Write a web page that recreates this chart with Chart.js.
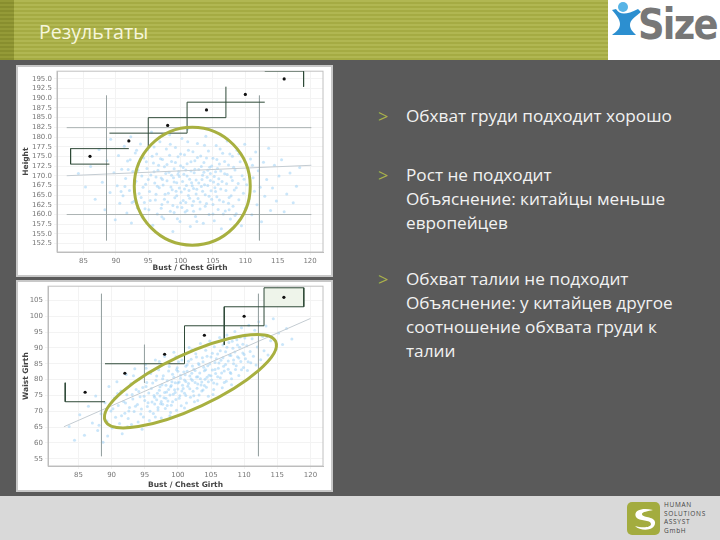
<!DOCTYPE html>
<html lang="ru">
<head>
<meta charset="utf-8">
<title>Результаты</title>
<script src="https://cdn.jsdelivr.net/npm/chart.js@4"></script>
<style>
  html, body { margin: 0; padding: 0; }
  body { width: 720px; height: 540px; position: relative; overflow: hidden; background: #5a5a5a; font-family: "Open Sans", sans-serif; }
  #header { position: absolute; left: 0; top: 0; width: 608px; height: 60px; background: repeating-linear-gradient(180deg, #b1b752 0 2px, #a5ab43 2px 4px); }
  #header i { position: absolute; left: 0; top: 0; width: 14px; height: 60px; background: repeating-linear-gradient(180deg, #949a37 0 2px, #888e2e 2px 4px); }
  #title { position: absolute; left: 39px; top: 19px; font-size: 19.6px; line-height: 26px; color: #f6f6dc; }
  #logo { position: absolute; left: 608px; top: 0; width: 112px; height: 60px; background: #fff; }
  #logo span { position: absolute; left: 30px; top: 0; font: bold 42px/50px "DejaVu Sans", sans-serif; letter-spacing: -2px; color: #777; transform: scaleX(.88); transform-origin: left; }
  #logo svg { position: absolute; left: 3px; top: 0; }
  #footer { position: absolute; left: 0; top: 496px; width: 720px; height: 44px; background: #d9d9d9; }
  #footer svg { position: absolute; left: 627px; top: 6px; }
  #footer p { position: absolute; left: 664px; top: 5px; margin: 0; font: 6.5px/8.6px "Open Sans", sans-serif; letter-spacing: .7px; color: #444; }
  .panel { position: absolute; left: 16px; width: 313px; height: 208px; background: #fff; border: 2px solid #c8c8c8; }
  #panel1 { top: 65px; }
  #panel2 { top: 280px; }
  canvas { position: absolute; left: -2px; top: -2px; filter: blur(.35px); }
  .note { position: absolute; left: 406px; margin: 0; font-size: 17.2px; line-height: 24px; color: #f2f2f2; width: 300px; }
  .note::before { content: ">"; position: absolute; left: -28px; color: #aab24a; font-size: 18px; }
</style>
</head>
<body>
<div id="header"><i></i></div>
<div id="title">Результаты</div>
<div id="logo">
  <svg width="30" height="44" viewBox="0 0 30 44"><circle cx="12" cy="7" r="5" fill="#57b4e6"/><path d="M1 10 L5 9 C9 15 15 15 27 9 L30 12 C24 17 19 20 19 25 C19 29 22 32 25 35 L1 35 C5 32 9 29 9 24 C9 19 5 15 1 10 Z" fill="#2c8fd0"/></svg>
  <span>Size</span>
</div>
<div id="footer">
  <svg width="33" height="33" viewBox="0 0 33 33"><rect width="33" height="33" rx="5" fill="#a3ac3f"/><path d="M26 8 C14 5 6 9 9 15 C12 20 24 17 24 22 C24 26 14 26 8 24 C14 30 29 29 28 20 C27 14 15 16 15 12 C15 10 21 9 26 8 Z" fill="#fff"/></svg>
  <p>HUMAN<br>SOLUTIONS<br>ASSYST<br>GmbH</p>
</div>

<div class="panel" id="panel1"><canvas id="heightChart" width="317" height="212"></canvas></div>
<div class="panel" id="panel2"><canvas id="waistChart" width="317" height="212"></canvas></div>

<p class="note" style="top:104px">Обхват груди подходит хорошо</p>
<p class="note" style="top:163px">Рост не подходит<br>Объяснение: китайцы меньше<br>европейцев</p>
<p class="note" style="top:267px">Обхват талии не подходит<br>Объяснение: у китайцев другое<br>соотношение обхвата груди к<br>талии</p>

<script>
/* global Chart */
const bustTicks = [85, 90, 95, 100, 105, 110, 115, 120];
const heightTicks = [195, 192.5, 190, 187.5, 185, 182.5, 180, 177.5, 175, 172.5, 170, 167.5, 165, 162.5, 160, 157.5, 155, 152.5];
const waistTicks = [105, 100, 95, 90, 85, 80, 75, 70, 65, 60, 55];

// the six size-table marks
const sizeBust = [86, 92, 98, 104, 110, 116];
const sizeHeight = [175, 179, 183, 187, 191, 195];
const sizeWaist = [76, 82, 88, 94, 100, 106];

// size-step outlines, [bust, value]
const heightSteps = [
  [[92, 177], [83, 177], [83, 173], [89, 173]],
  [[89, 181], [101, 181], [101, 189], [113, 189]],
  [[95, 177], [95, 185], [107, 185], [107, 193]],
  [[113, 197], [119, 197], [119, 193]],
];
const waistSteps = [
  [[83, 79], [83, 73], [89, 73]],
  [[89, 85], [101, 85], [101, 97], [113, 97], [113, 109], [119, 109], [119, 103], [107, 103], [107, 91]],
];
const waistTopBox = [[113, 109], [119, 109], [119, 103], [113, 103], [113, 109]];
const heightLimits = [
  [[88.55, 190.7], [88.55, 153.3]],
  [[112.18, 190.7], [112.18, 153.3]],
  [[82.4, 182.42], [120.2, 182.42]],
  [[82.4, 159.98], [120.2, 159.98]],
];
const waistLimits = [
  [[88.47, 107.1], [88.47, 55.8]],
  [[112.16, 107.1], [112.16, 55.8]],
  [[94.96, 91], [94.96, 79]],
];
const heightTrend = [[82.4, 170], [120.2, 172.7]];
const waistTrend = [[82.8, 65.1], [120, 99.3]];

// body scan cloud, bust against height
const heightCloud = [
  [84.2,170.6],[85.3,167.1],[86.1,172.4],[86.8,163.9],[87.4,176.8],[87.9,168.3],[88.3,161.2],[88.6,173.9],[89.1,165.7],[89.2,179.4],
  [89.7,170.8],[89.9,158.6],[90.2,167.4],[90.4,175.2],[90.6,162.9],[90.9,171.7],[91.1,164.8],[91.3,177.6],[91.5,169.3],[91.7,160.4],
  [91.8,173.8],[92.1,166.2],[92.3,180.1],[92.4,157.8],[92.6,171.1],[92.8,163.4],[93,175.9],[93.1,168.6],[93.3,161.7],[93.5,172.9],
  [93.6,165.4],[93.8,178.2],[94,169.9],[94.1,159.3],[94.3,174.6],[94.4,163.1],[94.6,167.8],[94.8,171.9],[94.9,176.7],[95.1,161.2],
  [95.2,165.9],[95.4,170.2],[95.5,181.3],[95.7,157.2],[95.8,173.3],[96,168.1],[96.1,163.7],[96.3,175.6],[96.4,160.1],[96.5,171.4],
  [96.7,166.9],[96.8,178.8],[97,169.4],[97.1,162.6],[97.2,174.2],[97.4,158.9],[97.5,172.3],[97.6,165.2],[97.8,176.9],[97.9,168.7],
  [98,163.2],[98.2,170.9],[98.3,180.6],[98.4,160.8],[98.6,173.7],[98.7,166.4],[98.8,155.6],[99,171.8],[99.1,164.3],[99.2,177.3],
  [99.4,168.2],[99.5,161.9],[99.6,174.9],[99.8,169.8],[99.9,158.2],[100,172.6],[100.1,165.8],[100.2,179.6],[100.4,163.6],[100.5,170.4],
  [100.6,175.4],[100.7,160.6],[100.9,167.5],[101,173.1],[101.1,182.1],[101.2,164.9],[101.4,169.1],[101.5,156.9],[101.6,171.2],[101.8,162.3],
  [101.9,176.2],[102,166.7],[102.2,173.9],[102.3,159.5],[102.4,168.9],[102.6,178.3],[102.7,164.1],[102.8,171.6],[103,161.4],[103.1,175.1],
  [103.2,167.2],[103.4,170.1],[103.5,157.7],[103.6,173.4],[103.8,165.1],[103.9,180.2],[104,162.8],[104.1,169.6],[104.3,176.4],[104.4,160],
  [104.5,172.2],[104.7,166.1],[104.8,163.9],[105,174.5],[105.1,168.4],[105.2,158.4],[105.4,171],[105.5,177.8],[105.6,164.6],[105.8,161.3],
  [105.9,169.2],[106,173],[106.2,166.6],[106.3,156.3],[106.5,175.8],[106.6,163.3],[106.8,170.5],[106.9,160.9],[107.1,167.9],[107.2,179],
  [107.4,172.8],[107.5,164.4],[107.7,158.8],[107.8,169.7],[108,175],[108.1,162.1],[108.3,166.3],[108.4,171.5],[108.6,160.2],[108.7,176.6],
  [108.9,168],[109,163.8],[109.2,173.6],[109.4,157.1],[109.5,170],[109.7,165.5],[109.9,178.1],[110,161.6],[110.2,167.7],[110.4,172],
  [110.6,164],[110.8,174.3],[111,159.9],[111.2,169.5],[111.4,166],[111.6,176.1],[111.8,162.5],[112,171.3],[112.3,167],[112.5,158.1],
  [112.8,173.5],[113,164.7],[113.3,169],[113.6,177.1],[113.9,161],[114.2,166.8],[114.5,172.7],[114.8,163.5],[115.2,169.9],[115.6,174.1],
  [116,160.7],[116.4,165.3],[116.9,170.7],[117.4,163],[117.9,167.3],[118.4,172.1],[99.3,166],[100.3,168.5],[100.8,171.5],[101.3,166.2],
  [101.7,168.2],[102.1,170.8],[102.5,166.5],[98.5,167.1],[98.9,169.5],[99.7,171.1],[97.3,167.6],[97.7,170.6],[96.2,169.7],[96.6,172.7],
  [103.3,169],[103.7,167.7],[104.2,171.4],[104.6,168.8],[105.3,166.9],[105.7,171.9],[100,163],[101,161],[102,163.4],[99,160.5],
  [92.2,174.1],[92.9,168],[93.4,171.4],[93.9,164.4],[94.2,167],[94.7,173.6],[95,169],[95.3,163.6],[95.6,175],[95.9,171],
  [96.2,165.2],[96.4,167.3],[96.9,174.4],[97,161.6],[97.2,169],[97.5,163.9],[97.9,172.9],[98.1,165.5],[98.3,175.3],[98.6,170.1],
  [98.8,162.3],[99,168.4],[99.2,173.4],[99.4,164.8],[99.6,170.4],[99.8,166.8],[100,175.6],[100.2,161.8],[100.4,172.1],[100.6,166.6],
  [100.8,163.1],[101,169.9],[101.2,176.6],[101.4,164.2],[101.6,173.6],[101.8,167.4],[102,160.8],[102.2,171.7],[102.4,165.3],[102.6,174.7],
  [102.8,168.1],[103,163.2],[103.2,172.4],[103.4,166],[103.6,170.9],[103.8,162.1],[104,174.6],[104.2,167.5],[104.4,164.7],[104.6,170.6],
  [104.8,172.5],[105,162.6],[105.2,169.8],[105.4,165.9],[105.6,174.2],[105.8,167.8],[106,163.7],[106.2,171.2],[106.4,168.5],[106.6,160.1],
  [106.8,173.7],[107,166.2],[107.2,170.3],[107.4,162.9],[107.6,175.6],[107.8,164.8],[108,168.8],[108.2,172.2],[108.4,159.7],[108.6,166.9],
  [91.4,167.2],[91.9,171.6],[92.5,163.1],[93.2,176.6],[94.5,161.5],[95.9,177.4],[97.1,159.4],[98.4,178.1],[99.5,158.9],[101.1,178.8],
  [102.5,158.2],[103.7,177.9],[105,160.1],[106.1,176.9],[107.5,161.2],[109,175.7],[109.8,169.1],[110.5,163.4],[111.1,172.7],[90.8,165.9],
];

// body scan cloud, bust against waist
const waistCloud = [
  [83.6,65.2],[84.4,60.8],[85.2,68.9],[85.9,62.4],[86.5,71.6],[87.1,66.3],[87.6,74.8],[87.9,63.9],[88.4,69.2],[88.7,60.2],
  [89,72.7],[89.3,66.9],[89.6,77.8],[89.9,70.1],[90.1,64.7],[90.4,74.2],[90.6,68.1],[90.8,79.3],[91,71.8],[91.2,66.1],
  [91.4,76.4],[91.6,62.9],[91.8,73.1],[92,69.4],[92.2,81.6],[92.3,75.2],[92.5,67.7],[92.7,71.2],[92.9,78.7],[93,65.8],
  [93.2,73.9],[93.4,69.9],[93.5,83.4],[93.7,76.9],[93.9,72.1],[94,66.6],[94.2,80.2],[94.3,74.6],[94.5,70.7],[94.7,77.5],
  [94.8,68.2],[95,73.4],[95.1,84.8],[95.3,79.1],[95.4,71.5],[95.6,75.8],[95.7,67.1],[95.9,81.9],[96,77.2],[96.1,72.9],
  [96.3,69.3],[96.4,75],[96.6,86.2],[96.7,79.8],[96.8,73.6],[97,70.4],[97.1,83.1],[97.2,76.6],[97.4,72.4],[97.5,67.9],
  [97.6,78.4],[97.8,81.2],[97.9,74.3],[98,87.3],[98.1,70.9],[98.3,76.1],[98.4,79.6],[98.5,73.2],[98.7,84.1],[98.8,68.6],
  [98.9,77.7],[99,71.9],[99.2,81.7],[99.3,75.4],[99.4,88.6],[99.6,79],[99.7,73.7],[99.8,70.3],[99.9,83.7],[100,77],
  [100.1,85.6],[100.3,74.9],[100.4,80.4],[100.5,71.7],[100.7,78.2],[100.8,87.9],[100.9,82.4],[101,75.7],[101.2,79.4],[101.3,72.6],
  [101.4,84.7],[101.5,77.9],[101.7,90.1],[101.8,81.1],[101.9,74.4],[102,86.4],[102.2,79.7],[102.3,76.3],[102.4,83.3],[102.5,73],
  [102.7,88.2],[102.8,80.8],[102.9,77.3],[103.1,85.1],[103.2,75.1],[103.3,82.1],[103.4,91.4],[103.6,79.2],[103.7,86.9],[103.8,76.7],
  [103.9,83.9],[104.1,80.1],[104.2,89.3],[104.3,77.6],[104.5,84.4],[104.6,74.7],[104.7,81.4],[104.8,92.2],[105,87.1],[105.1,79.9],
  [105.2,83],[105.4,76.9],[105.5,90.4],[105.6,85.4],[105.7,81.9],[105.9,78.6],[106,88.1],[106.1,83.6],[106.3,93.3],[106.4,80.6],
  [106.5,86.1],[106.7,77.4],[106.8,90.9],[106.9,84.2],[107,82.7],[107.2,88.8],[107.3,79.5],[107.4,94.1],[107.6,85.9],[107.7,91.7],
  [107.9,82.2],[108,87.6],[108.1,80.3],[108.3,89.9],[108.4,85],[108.6,95.2],[108.7,83.2],[108.9,92.6],[109,87.2],[109.2,81.3],
  [109.3,90.2],[109.5,85.7],[109.6,96.4],[109.8,88.4],[109.9,83.8],[110.1,93.1],[110.2,86.6],[110.4,90.7],[110.5,82.9],[110.7,97.2],
  [110.9,88.9],[111,85.3],[111.2,92.9],[111.4,87.4],[111.6,95.6],[111.8,84.6],[112,90.3],[112.2,98.3],[112.5,86.3],[112.8,93.6],
  [113,89.1],[113.3,96.9],[113.6,87.8],[114,92.3],[114.4,99.2],[114.8,89.6],[115.2,94.7],[115.8,91.1],[116.4,96.1],[117.2,92.8],
  [99.5,76.8],[100.2,79.2],[100.6,76.4],[101.1,81.5],[101.6,78.8],[102.1,82],[102.6,79.1],[98.2,74.1],[98.6,76.9],[97.3,74.8],
  [97.7,72.2],[96.5,72.3],[96.9,75.7],[103,80.9],[103.5,78.3],[104,82.8],[104.4,80.7],[99.1,79.3],[100,82.6],[101.2,84.2],
  [92.1,72.6],[92.6,70.1],[93.1,75.3],[93.6,71.6],[94.1,76.2],[94.4,69.1],[94.9,74.7],[95.2,77.8],[95.5,72.7],[95.8,70],
  [96.2,78.9],[96.5,74.4],[96.8,81.1],[97,71.2],[97.3,77.7],[97.5,73.1],[97.7,80.3],[98,75.9],[98.2,78.2],[98.4,71.8],
  [98.6,82.7],[98.8,75.1],[99,78.1],[99.2,73],[99.4,80.7],[99.6,75.9],[99.8,83.1],[100,78.9],[100.2,74.1],[100.4,81.4],
  [100.6,86.2],[100.8,77.2],[101,79.9],[101.2,75],[101.4,82.6],[101.6,85.8],[101.8,77.1],[102,80.2],[102.2,84.3],[102.4,74.9],
  [102.6,82.9],[102.8,87.1],[103,78.6],[103.2,84.7],[103.4,80.3],[103.6,76.4],[103.8,85.6],[104,78.1],[104.2,83.1],[104.4,87.4],
  [104.6,79.3],[104.8,84.9],[105,81.2],[105.2,88.3],[105.4,78.9],[105.6,83.2],[105.8,86.6],[106,80.9],[106.2,85.2],[106.4,89.1],
  [106.6,82.1],[106.8,86.9],[107,79.1],[107.2,84.8],[107.4,90.2],[107.6,83.3],[107.8,87.7],[108,81.9],[108.2,92.1],[108.4,86.2],
  [108.6,88.7],[108.8,84.4],[109,90.9],[109.2,86.8],[109.4,93.4],[109.6,83.1],[109.8,91.2],[110,87.9],[110.2,94.1],[110.6,85.6],
  [88.1,65.6],[89.4,62.2],[90.2,70.8],[90.9,75.6],[91.5,68.6],[92.4,65.1],[93.3,81.2],[94.6,64.3],[95.2,83.6],[96.6,68.2],
  [97.2,85.7],[98.9,69.6],[99.7,87.2],[101,71],[102.1,89.4],[103,73.4],[104.5,91.1],[105.3,75.3],[106.6,92.7],[108.1,78.4],
];

const ink = "#2f4a38";
const limitInk = "#98a2a2";
const trendInk = "#c4ccd2";

function toPoints(pairs) {
  return pairs.map(([x, y]) => ({ x, y }));
}

function lineSet(pairs, color, width) {
  return { data: toPoints(pairs), showLine: true, borderColor: color, borderWidth: width, pointRadius: 0, fill: false };
}

// plot frame behind everything, green ring on top; ring centre is in data values
const ringPlugin = {
  id: "ring",
  beforeDatasetsDraw(chart) {
    const { ctx, chartArea: a } = chart;
    ctx.save();
    ctx.strokeStyle = "#c0c0c0";
    ctx.strokeRect(a.left, a.top, a.right - a.left, a.bottom - a.top);
    ctx.restore();
  },
  afterDatasetsDraw(chart, args, opts) {
    const { ctx, scales } = chart;
    ctx.save();
    ctx.beginPath();
    ctx.ellipse(scales.x.getPixelForValue(opts.x), scales.y.getPixelForValue(opts.y), opts.rx, opts.ry, opts.rotation, 0, Math.PI * 2);
    ctx.lineWidth = 3;
    ctx.strokeStyle = "#a8b040";
    ctx.stroke();
    ctx.restore();
  },
};

function createFitChart(canvas, { cloud, limits, trend, steps, extra = [], marks, yTicks, yTitle, yFormat, xMin, xMax, yMin, yMax, yWidth, padding, xHeight, ring }) {
  return new Chart(canvas, {
    type: "scatter",
    plugins: [ringPlugin],
    data: {
      // Chart.js paints the first dataset last, so the top layer goes first
      datasets: [
        { data: marks, pointRadius: 1.6, borderWidth: 0, backgroundColor: "#111" },
        ...steps.map(s => lineSet(s, ink, 1)),
        ...limits.map(l => lineSet(l, limitInk, 0.8)),
        lineSet(trend, trendInk, 1),
        { data: toPoints(cloud), pointRadius: 1.5, borderWidth: 0, backgroundColor: "rgba(150,205,245,.5)" },
        ...extra,
      ],
    },
    options: {
      responsive: false,
      animation: false,
      layout: { padding },
      plugins: { legend: { display: false }, tooltip: { enabled: false }, ring },
      scales: {
        x: {
          type: "linear",
          min: xMin,
          max: xMax,
          afterBuildTicks: s => { s.ticks = bustTicks.map(value => ({ value })); },
          afterFit: s => { s.height = xHeight; },
          title: { display: true, text: "Bust / Chest Girth", color: "#444", padding: 0, font: { size: 7.5, weight: "bold", family: "'DejaVu Sans'" } },
          ticks: { color: "#777", padding: 2, maxRotation: 0, font: { size: 7, family: "'DejaVu Sans'" } },
          grid: { color: "#f3f3f3", tickLength: 3 },
          border: { color: "#bbb" },
        },
        y: {
          type: "linear",
          min: yMin,
          max: yMax,
          afterBuildTicks: s => { s.ticks = yTicks.map(value => ({ value })); },
          afterFit: s => { s.width = yWidth; },
          title: { display: true, text: yTitle, color: "#444", padding: 0, font: { size: 7.5, weight: "bold", family: "'DejaVu Sans'" } },
          ticks: { color: "#777", padding: 2, autoSkip: false, font: { size: 7, family: "'DejaVu Sans'" }, callback: yFormat },
          grid: { color: "#f3f3f3", tickLength: 3 },
          border: { color: "#bbb" },
        },
      },
    },
  });
}

createFitChart(document.getElementById("heightChart"), {
  cloud: heightCloud,
  limits: heightLimits,
  trend: heightTrend,
  steps: heightSteps,
  marks: sizeBust.map((x, i) => ({ x, y: sizeHeight[i] })),
  yTicks: heightTicks,
  yTitle: "Height",
  yFormat: v => v.toFixed(1),
  xMin: 80.9, xMax: 122, yMin: 150.3, yMax: 197,
  yWidth: 35,
  padding: { top: 6, right: 10, bottom: 4, left: 6 },
  xHeight: 21,
  ring: { x: 101.8, y: 167.3, rx: 58, ry: 59, rotation: 0 },
});

createFitChart(document.getElementById("waistChart"), {
  cloud: waistCloud,
  limits: waistLimits,
  trend: waistTrend,
  steps: waistSteps,
  extra: [{ data: toPoints(waistTopBox), showLine: true, borderWidth: 0, pointRadius: 0, fill: "shape", backgroundColor: "#eef4ea" }],
  marks: sizeBust.map((x, i) => ({ x, y: sizeWaist[i] })),
  yTicks: waistTicks,
  yTitle: "Waist Girth",
  yFormat: v => String(v),
  xMin: 80.4, xMax: 121.9, yMin: 52.7, yMax: 109.5,
  yWidth: 26,
  padding: { top: 6, right: 10, bottom: 2, left: 6 },
  xHeight: 24,
  ring: { x: 101.9, y: 79.5, rx: 94, ry: 27, rotation: -25 * Math.PI / 180 },
});
</script>
</body>
</html>
